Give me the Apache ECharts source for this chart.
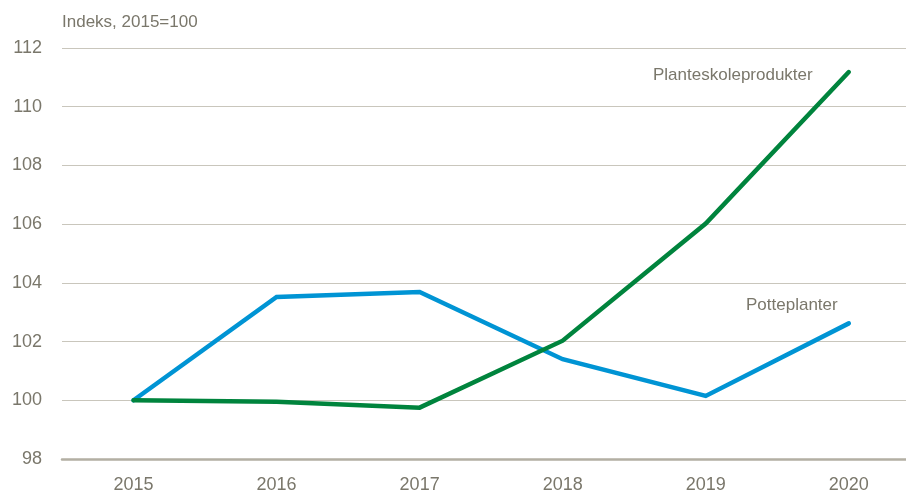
<!DOCTYPE html>
<html><head><meta charset="utf-8">
<script src="https://cdn.jsdelivr.net/npm/echarts@6/dist/echarts.min.js"></script>
<style>html,body{margin:0;padding:0;background:#fff}#c{width:906px;height:493px}</style>
</head><body><div id="c"></div>
<script>
const years = [2015, 2016, 2017, 2018, 2019, 2020];
const potteplanter = [100, 103.52, 103.69, 101.4, 100.15, 102.62];
const planteskole = [100, 99.95, 99.75, 102.03, 106.02, 111.18];
const yTicks = [98, 100, 102, 104, 106, 108, 110, 112];
const FONT = "'Liberation Sans Narrow', 'Arial Narrow', 'Liberation Sans', sans-serif";
const TXT = '#7a776b';

const chart = echarts.init(document.getElementById('c'));
chart.setOption({
  animation: false,
  grid: {left: 62, right: 0, top: 48, bottom: 34, outerBoundsMode: 'none'},
  xAxis: {
    type: 'value', min: 2014.5, max: 2020.4, interval: 0.5,
    axisLine: {show: true, lineStyle: {color: '#b3afa3', width: 2.5}},
    axisTick: {show: false},
    splitLine: {show: false},
    axisLabel: {
      color: TXT, fontFamily: FONT, fontSize: 18, margin: 17,
      formatter: v => (Number.isInteger(v) && years.includes(v)) ? String(v) : '',
      showMinLabel: true, showMaxLabel: false
    }
  },
  yAxis: {
    type: 'value', min: yTicks[0], max: yTicks[yTicks.length - 1], interval: 2,
    axisLine: {show: false}, axisTick: {show: false},
    splitLine: {lineStyle: {color: '#c9c6bc', width: 1}},
    axisLabel: {color: TXT, fontFamily: FONT, fontSize: 18, margin: 20}
  },
  series: [
    {
      name: 'Potteplanter', type: 'line', symbol: 'none',
      data: years.map((y, i) => [y, potteplanter[i]]),
      lineStyle: {color: '#0094d4', width: 4.5, cap: 'round', join: 'miter'}
    },
    {
      name: 'Planteskoleprodukter', type: 'line', symbol: 'none',
      data: years.map((y, i) => [y, planteskole[i]]),
      lineStyle: {color: '#00843d', width: 4.5, cap: 'round', join: 'miter'}
    }
  ],
  graphic: [
    {type: 'text', left: 62, top: 14, style: {text: 'Indeks, 2015=100', fill: TXT, font: '17px ' + FONT}},
    {type: 'text', left: 653, top: 67, style: {text: 'Planteskoleprodukter', fill: TXT, font: '17px ' + FONT}},
    {type: 'text', left: 746, top: 297, style: {text: 'Potteplanter', fill: TXT, font: '17px ' + FONT}}
  ]
});
</script></body></html>
